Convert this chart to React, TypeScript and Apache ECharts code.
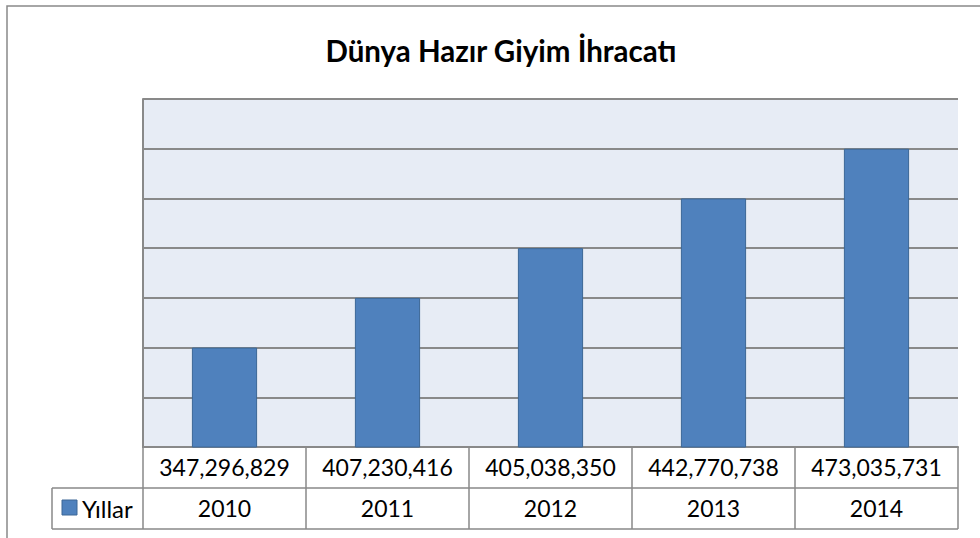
import React, { useEffect, useRef } from "react";
import * as echarts from "echarts";

const titleText = "Dünya Hazır Giyim İhracatı";
const seriesName = "Yıllar";
const categories = ["347,296,829", "407,230,416", "405,038,350", "442,770,738", "473,035,731"];
const seriesValues = [2010, 2011, 2012, 2013, 2014];
const axisMin = 2008;
const axisMax = 2015;
const axisInterval = 1;

const FONT = "Lato, 'Noto Sans', sans-serif";
const GRID_L = 143;
const GRID_R = 958;
const GRID_T = 99;
const GRID_B = 447;
const ROW1_B = 488;
const ROW2_B = 529;
const LABEL_L = 52;
const LINE = "#898989";
const BAR = "#4F81BD";
const BAR_BORDER = "#3C6796";
const TABLE_FS = 23;

export default function App() {
  const ref = useRef<HTMLDivElement>(null);
  useEffect(() => {
    if (!ref.current) return;
    const chart = echarts.init(ref.current, undefined, { renderer: "svg" });
    const n = categories.length;
    const colW = (GRID_R - GRID_L) / n;
    const graphics: any[] = [];
    graphics.push({
      type: "rect",
      shape: { x: 7, y: 6, width: 1100, height: 700 },
      style: { fill: "none", stroke: LINE, lineWidth: 1.5 },
      silent: true,
    });
    graphics.push({ type: "line", shape: { x1: LABEL_L, y1: ROW1_B, x2: GRID_R, y2: ROW1_B }, style: { stroke: LINE, lineWidth: 1.5 } });
    graphics.push({ type: "line", shape: { x1: LABEL_L, y1: ROW2_B, x2: GRID_R, y2: ROW2_B }, style: { stroke: LINE, lineWidth: 1.5 } });
    graphics.push({ type: "line", shape: { x1: LABEL_L, y1: ROW1_B, x2: LABEL_L, y2: ROW2_B }, style: { stroke: LINE, lineWidth: 1.5 } });
    graphics.push({ type: "line", shape: { x1: GRID_L, y1: GRID_B, x2: GRID_L, y2: ROW2_B }, style: { stroke: LINE, lineWidth: 1.5 } });
    for (let k = 1; k <= n; k++) {
      const x = Math.round(GRID_L + colW * k);
      graphics.push({ type: "line", shape: { x1: x, y1: GRID_B, x2: x, y2: ROW2_B }, style: { stroke: LINE, lineWidth: 1.5 } });
    }
    graphics.push({
      type: "rect",
      shape: { x: 62, y: 500, width: 15, height: 15 },
      style: { fill: BAR, stroke: BAR_BORDER, lineWidth: 1 },
    });
    graphics.push({
      type: "text",
      x: 82,
      y: 508.5,
      style: { text: seriesName, font: `24px ${FONT}`, fill: "#000", textVerticalAlign: "middle", textAlign: "left" },
    });

    const labelStyle = {
      color: "#000",
      fontFamily: FONT,
      fontSize: TABLE_FS,
      margin: 8,
      lineHeight: TABLE_FS,
      interval: 0,
    };

    chart.setOption({
      animation: false,
      backgroundColor: "#ffffff",
      title: {
        text: titleText,
        left: 496,
        textAlign: "center",
        top: 30,
        textStyle: { fontFamily: FONT, fontSize: 29.5, fontWeight: "bold", color: "#000" },
      },
      grid: {
        left: GRID_L,
        right: 980 - GRID_R,
        top: GRID_T,
        bottom: 538 - GRID_B,
        show: true,
        backgroundColor: "#E7ECF5",
        borderWidth: 0,
      },
      xAxis: [
        {
          type: "category",
          data: categories,
          position: "bottom",
          axisLine: { show: true, lineStyle: { color: LINE, width: 2 } },
          axisTick: { show: false },
          axisLabel: labelStyle,
          splitLine: { show: false },
        },
        {
          type: "category",
          data: seriesValues.map((v) => String(v)),
          position: "bottom",
          offset: ROW1_B - GRID_B,
          axisLine: { show: false },
          axisTick: { show: false },
          axisLabel: labelStyle,
          splitLine: { show: false },
        },
      ],
      yAxis: {
        type: "value",
        min: axisMin,
        max: axisMax,
        interval: axisInterval,
        axisLabel: { show: false },
        axisTick: { show: false },
        axisLine: { show: true, lineStyle: { color: LINE, width: 2 } },
        splitLine: { show: true, lineStyle: { color: LINE, width: 2 } },
      },
      series: [
        {
          name: seriesName,
          type: "bar",
          data: seriesValues,
          barWidth: "40%",
          itemStyle: { color: BAR, borderColor: BAR_BORDER, borderWidth: 1 },
        },
      ],
      graphic: graphics,
    });
    return () => chart.dispose();
  }, []);
  return <div ref={ref} style={{ position: "fixed", left: 0, top: 0, width: 980, height: 538 }} />;
}
